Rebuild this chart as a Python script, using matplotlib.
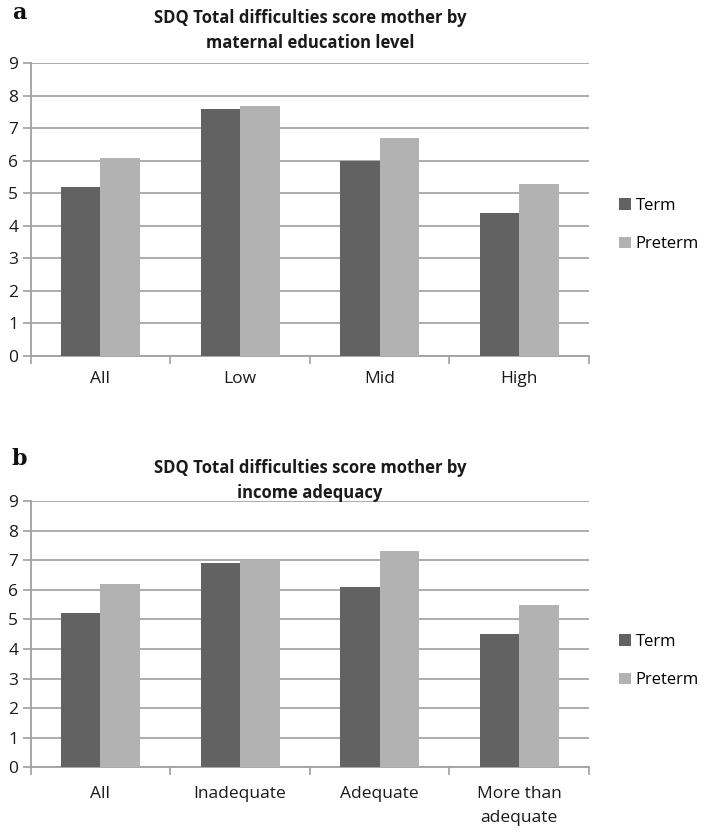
import matplotlib
matplotlib.use("Agg")
import matplotlib.pyplot as plt
import numpy as np

series_names = ["Term", "Preterm"]
colors = ["#626262", "#b2b2b2"]

cats_a = ["All", "Low", "Mid", "High"]
term_a = [5.2, 7.6, 6.0, 4.4]
preterm_a = [6.1, 7.7, 6.7, 5.3]
title_a = "SDQ Total difficulties score mother by\nmaternal education level"

cats_b = ["All", "Inadequate", "Adequate", "More than\nadequate"]
term_b = [5.2, 6.9, 6.1, 4.5]
preterm_b = [6.2, 7.0, 7.3, 5.5]
title_b = "SDQ Total difficulties score mother by\nincome adequacy"

yticks = list(range(0, 10))

plt.rcParams['font.family'] = ['Open Sans', 'DejaVu Sans']

W, H = 708, 830
fig = plt.figure(figsize=(W / 100, H / 100), dpi=100)

def make_panel(rect, cats, term, preterm, title, letter, letter_y, title_y, legend_y, xpad):
    ax = fig.add_axes(rect)
    x = np.arange(len(cats))
    bw = 0.283
    ax.bar(x - bw / 2, term, bw, color=colors[0], label=series_names[0], zorder=3)
    ax.bar(x + bw / 2, preterm, bw, color=colors[1], label=series_names[1], zorder=3)
    ax.set_xlim(-0.5, len(cats) - 0.5)
    ax.set_ylim(0, 9)
    ax.set_yticks(yticks)
    ax.yaxis.grid(True, color="#a6a6a6", linewidth=1.3, zorder=0)
    ax.set_axisbelow(True)
    for s in ["top", "right"]:
        ax.spines[s].set_visible(False)
    for s in ["left", "bottom"]:
        ax.spines[s].set_color("#a0a0a0")
        ax.spines[s].set_linewidth(1.3)
    ax.set_xticks(x)
    ax.set_xticklabels(cats, fontsize=12.5, color="#1a1a1a", linespacing=1.7)
    ax.set_xticks(np.arange(len(cats) + 1) - 0.5, minor=True)
    ax.tick_params(axis="x", which="major", length=0, pad=xpad)
    ax.tick_params(axis="x", which="minor", length=6, color="#a0a0a0", width=1.2)
    ax.tick_params(axis="y", length=6, color="#a0a0a0", width=1.2, pad=3,
                   labelsize=12.5, labelcolor="#1a1a1a")
    cx = rect[0] + rect[2] / 2
    fig.text(cx, title_y, title, ha="center", va="top", fontsize=12,
             fontweight="bold", color="#1a1a1a", linespacing=1.5)
    fig.text(12 / W, letter_y, letter, ha="left", va="top", fontsize=16,
             fontweight="bold", family="DejaVu Serif", color="#111111")
    handles, labels = ax.get_legend_handles_labels()
    fig.legend(handles, labels, loc="center left",
               bbox_to_anchor=(619 / W, legend_y), frameon=False, borderpad=0,
               borderaxespad=0, fontsize=12, handlelength=0.7, handleheight=0.7,
               handletextpad=0.3, labelspacing=1.35)
    return ax

make_panel([30.7 / W, 1 - 356 / H, (589 - 30.7) / W, (356 - 63.3) / H],
           cats_a, term_a, preterm_a, title_a, "a", 1 - 2 / H, 1 - 9 / H, 1 - 225 / H, 11)
make_panel([30.7 / W, 1 - 767.3 / H, (589 - 30.7) / W, (767.3 - 501) / H],
           cats_b, term_b, preterm_b, title_b, "b", 1 - 448 / H, 1 - 459 / H, 1 - 661 / H, 13.5)

fig.savefig("out.png", dpi=100, facecolor="white")
